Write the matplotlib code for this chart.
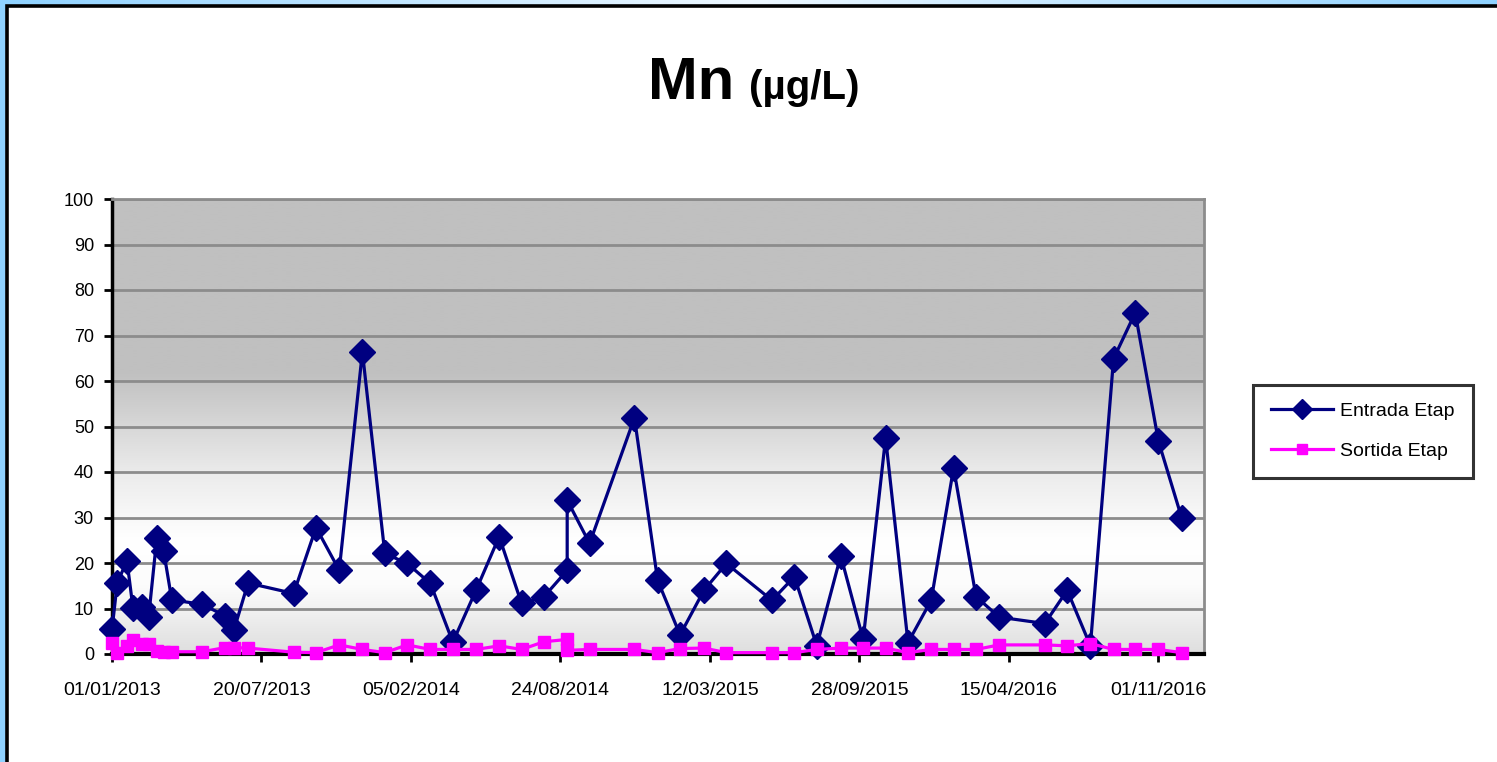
import numpy as np
import pandas as pd
import matplotlib
matplotlib.use("Agg")
import matplotlib.pyplot as plt
import matplotlib.dates as mdates
from matplotlib.patches import Rectangle
from matplotlib.colors import LinearSegmentedColormap

# ---------------- data ----------------
dates = [
    "2013-01-01", "2013-01-08", "2013-01-21", "2013-01-29", "2013-02-10",
    "2013-02-19", "2013-03-02", "2013-03-11", "2013-03-22", "2013-05-02",
    "2013-06-01", "2013-06-13", "2013-07-02", "2013-09-01", "2013-10-01",
    "2013-11-01", "2013-12-02", "2014-01-01", "2014-01-31", "2014-03-03",
    "2014-04-02", "2014-05-03", "2014-06-03", "2014-07-03", "2014-08-02",
    "2014-09-02", "2014-09-02", "2014-10-02", "2014-12-01", "2015-01-01",
    "2015-01-31", "2015-03-04", "2015-04-03", "2015-06-03", "2015-07-03",
    "2015-08-02", "2015-09-03", "2015-10-03", "2015-11-02", "2015-12-02",
    "2016-01-02", "2016-02-01", "2016-03-02", "2016-04-02", "2016-06-02",
    "2016-07-02", "2016-08-02", "2016-09-02", "2016-10-01", "2016-11-01",
    "2016-12-02",
]
entrada = [
    5.4, 15.6, 20.5, 10.2, 10.4,
    8.1, 25.6, 22.7, 11.9, 10.9,
    8.4, 5.2, 15.6, 13.3, 27.8,
    18.4, 66.4, 22.1, 19.9, 15.5,
    2.6, 14.0, 25.8, 11.1, 12.6,
    18.4, 33.8, 24.3, 51.9, 16.2,
    4.2, 14.0, 19.9, 11.8, 17.0,
    1.8, 21.6, 3.2, 47.5, 2.5,
    11.8, 40.9, 12.6, 8.1, 6.7,
    14.0, 1.8, 64.9, 75.0, 46.8,
    30.0,
]
sortida = [
    2.5, 0.3, 1.8, 3.0, 2.3,
    2.1, 0.7, 0.5, 0.5, 0.5,
    1.4, 1.4, 1.3, 0.4, 0.3,
    2.0, 1.0, 0.3, 2.0, 1.0,
    1.0, 1.0, 1.8, 1.0, 2.7,
    3.2, 0.8, 1.0, 1.0, 0.3,
    1.2, 1.3, 0.3, 0.3, 0.3,
    1.0, 1.3, 1.3, 1.3, 0.3,
    1.0, 1.0, 1.0, 2.0, 2.0,
    1.8, 2.3, 1.0, 1.0, 1.0,
    0.3,
]
series_names = ["Entrada Etap", "Sortida Etap"]
title_main = "Mn"
title_unit = "(µg/L)"
x_start = "2013-01-01"
x_end = "2017-01-01"
tick_step_days = 200
y_ticks = list(range(0, 101, 10))

# ---------------- figure ----------------
W, H = 1497, 762
fig = plt.figure(figsize=(W / 100, H / 100), dpi=100)
fig.patch.set_facecolor("#9fd8ff")

def fx(px):
    return px / W

def fy(py):
    return 1 - py / H

# background: light blue gradient frame + white chart area
bg = fig.add_axes([0, 0, 1, 1], zorder=-10)
bg.set_axis_off()
grad_cmap = LinearSegmentedColormap.from_list(
    "bluefade", ["#8fd2ff", "#eef8ff", "#8fd2ff"])
bg.imshow(np.linspace(0, 1, 300)[None, :], aspect="auto", cmap=grad_cmap,
          extent=[0, 1, 0, 1], transform=bg.transAxes)
bg.set_xlim(0, 1)
bg.set_ylim(0, 1)
bg.add_patch(Rectangle((fx(7), -0.05), 1.2, fy(6) + 0.05, transform=bg.transAxes,
                       facecolor="white", edgecolor="black", linewidth=2.6))

# plot axes
ax = fig.add_axes([fx(112), fy(654), fx(1204) - fx(112), fy(199) - fy(654)])
ax.set_facecolor("none")

# plot area gradient (gray top -> white -> light gray bottom)
vals = np.linspace(100, 0, 400)   # row 0 = top of the plot area
stops_v = [0, 15, 25, 40, 62, 100]
stops_c = [222, 252, 255, 235, 192, 192]
g = np.interp(vals, stops_v, stops_c) / 255.0
img = np.stack([g, g, g], axis=-1).reshape(len(vals), 1, 3)
ax.imshow(img, aspect="auto", extent=[0, 1, 0, 1], transform=ax.transAxes,
          origin="upper", zorder=0, interpolation="bilinear")

dt = pd.to_datetime(dates)
navy = "#000080"
magenta = "#ff00ff"

ax.plot(dt, entrada, color=navy, lw=2.3, marker="D", markersize=13,
        markerfacecolor=navy, markeredgecolor=navy, label=series_names[0],
        zorder=4, clip_on=False)
ax.plot(dt, sortida, color=magenta, lw=2.3, marker="s", markersize=8.5,
        markerfacecolor=magenta, markeredgecolor=magenta, label=series_names[1],
        zorder=5, clip_on=False)

# axes limits / ticks
x0 = pd.Timestamp(x_start)
x1 = pd.Timestamp(x_end)
ax.set_xlim(x0, x1)
ax.set_ylim(0, 100)
xticks = pd.date_range(x0, x1, freq=f"{tick_step_days}D")
ax.set_xticks(xticks)
ax.xaxis.set_major_formatter(mdates.DateFormatter("%d/%m/%Y"))
ax.set_yticks(y_ticks)

font_fam = ["Liberation Sans", "DejaVu Sans"]
ax.tick_params(axis="x", direction="out", length=6, width=2, color="black",
               pad=14, labelsize=14, labelcolor="black")
ax.tick_params(axis="y", direction="out", length=6, width=2, color="black",
               pad=7, labelsize=13, labelcolor="black")
for lab in ax.get_xticklabels() + ax.get_yticklabels():
    lab.set_family(font_fam)

ax.yaxis.grid(True, color="#8c8c8c", linewidth=2, zorder=1)
ax.xaxis.grid(False)
ax.set_axisbelow(True)

for side in ["top", "right"]:
    ax.spines[side].set_color("#8c8c8c")
    ax.spines[side].set_linewidth(2)
ax.spines["left"].set_color("black")
ax.spines["left"].set_linewidth(2.5)
ax.spines["bottom"].set_color("black")
ax.spines["bottom"].set_linewidth(3)
for s in ax.spines.values():
    s.set_zorder(3)

# title
fig.text(fx(734), fy(99), title_main, ha="right", va="baseline",
         fontsize=43, fontweight="bold", family=font_fam)
fig.text(fx(749), fy(99), title_unit, ha="left", va="baseline",
         fontsize=29, fontweight="bold", family=font_fam)

# legend
leg = ax.legend(loc="upper left", bbox_to_anchor=(fx(1253), fy(385)),
                bbox_transform=fig.transFigure, borderaxespad=0,
                frameon=True, fancybox=False, shadow=False,
                prop={"family": font_fam, "size": 14},
                handlelength=3.2, handletextpad=0.4, labelspacing=1.15,
                borderpad=0.9, markerscale=0.8)
leg.get_frame().set_edgecolor("black")
leg.get_frame().set_linewidth(2.2)
leg.get_frame().set_facecolor("white")

fig.savefig("out.png", dpi=100)
